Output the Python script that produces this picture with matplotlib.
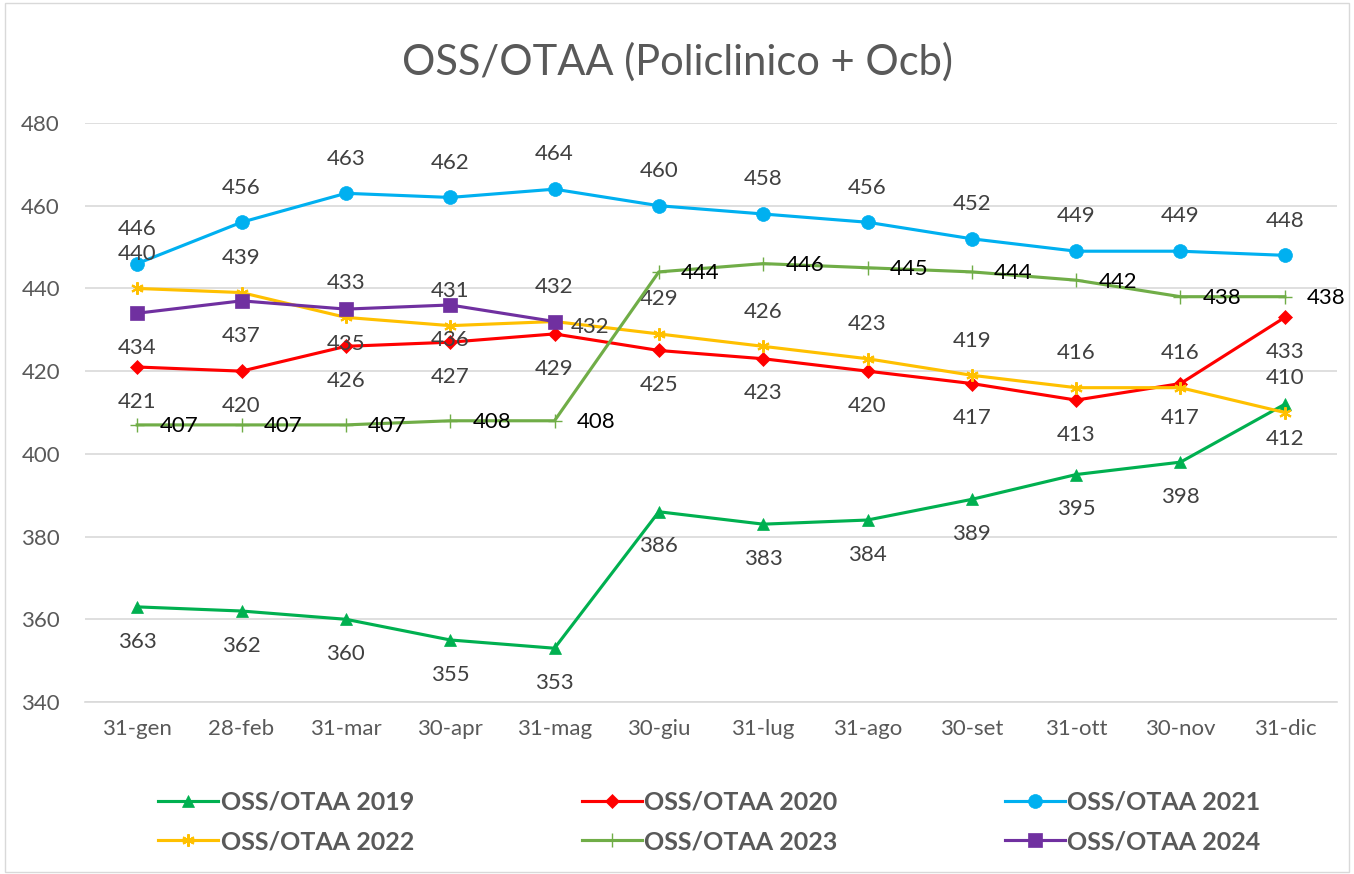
import matplotlib.pyplot as plt

plt.rcParams['font.family'] = ['Lato', 'DejaVu Sans']

months = ['31-gen', '28-feb', '31-mar', '30-apr', '31-mag', '30-giu',
          '31-lug', '31-ago', '30-set', '31-ott', '30-nov', '31-dic']

v2019 = [363, 362, 360, 355, 353, 386, 383, 384, 389, 395, 398, 412]
v2020 = [421, 420, 426, 427, 429, 425, 423, 420, 417, 413, 417, 433]
v2021 = [446, 456, 463, 462, 464, 460, 458, 456, 452, 449, 449, 448]
v2022 = [440, 439, 433, 431, 432, 429, 426, 423, 419, 416, 416, 410]
v2023 = [407, 407, 407, 408, 408, 444, 446, 445, 444, 442, 438, 438]
v2024 = [434, 437, 435, 436, 432]

series = [
    ('OSS/OTAA 2019', v2019, '#00B050', '^', 9, 'below'),
    ('OSS/OTAA 2020', v2020, '#FF0000', 'D', 7, 'below'),
    ('OSS/OTAA 2021', v2021, '#00B0F0', 'o', 10, 'above'),
    ('OSS/OTAA 2022', v2022, '#FFC000', 'x', 9, 'above'),
    ('OSS/OTAA 2023', v2023, '#70AD47', '+', 10, 'right'),
    ('OSS/OTAA 2024', v2024, '#7030A0', 's', 10, 'below'),
]

fig = plt.figure(figsize=(13.54, 8.74), dpi=100)
ax = fig.add_axes([85 / 1354, 1 - 702 / 874, (1337 - 85) / 1354, (702 - 123) / 874])

label_color = '#404040'
lfs = 16
for name, vals, color, mk, ms, pos in series:
    x = list(range(len(vals)))
    if mk == 'x':
        ax.plot(x, vals, color=color, lw=2.25, zorder=3, label=name,
                marker=(6, 2, 0), ms=ms, mew=1.5)
    else:
        ax.plot(x, vals, color=color, lw=2.25, marker=mk, ms=ms, zorder=3,
                label=name, mew=1 if mk == '+' else 0.5)
    for i, v in enumerate(vals):
        p = pos
        if name.endswith('2024') and i == len(vals) - 1:
            p = 'right'
        if p == 'below':
            ax.annotate(str(v), (i, v), xytext=(0, -25), textcoords='offset points',
                        ha='center', va='center', fontsize=lfs, color=label_color)
        elif p == 'above':
            ax.annotate(str(v), (i, v), xytext=(0, 25), textcoords='offset points',
                        ha='center', va='center', fontsize=lfs, color=label_color)
        elif name.endswith('2023'):
            ax.annotate(str(v), (i, v), xytext=(16, -1), textcoords='offset points',
                        ha='left', va='center', fontsize=lfs, color='black')
        else:
            ax.annotate(str(v), (i, v), xytext=(12, -4), textcoords='offset points',
                        ha='left', va='center', fontsize=lfs, color=label_color)

ax.set_xlim(-0.5, 11.5)
ax.set_ylim(340, 480)
ax.set_yticks(range(340, 481, 20))
ax.set_xticks(range(12))
ax.set_xticklabels(months)
ax.tick_params(axis='both', length=0, labelsize=16, colors='#595959')
ax.tick_params(axis='y', pad=18)
ax.tick_params(axis='x', pad=12)
ax.grid(axis='y', color='#D9D9D9', lw=1.2)
ax.set_axisbelow(True)
for s in ['top', 'right', 'left']:
    ax.spines[s].set_visible(False)
ax.spines['bottom'].set_color('#D9D9D9')
ax.spines['bottom'].set_linewidth(1.2)

fig.text(0.5, 1 - 62 / 874, 'OSS/OTAA (Policlinico + Ocb)', ha='center', va='center',
         fontsize=30, color='#595959')

handles, labels = ax.get_legend_handles_labels()
order = [0, 3, 1, 4, 2, 5]
leg = fig.legend([handles[k] for k in order], [labels[k] for k in order],
                 loc='center', bbox_to_anchor=(0.524, 1 - 822 / 874),
                 ncol=3, frameon=False, columnspacing=6.7,
                 handlelength=2.4, handletextpad=0.1, labelspacing=0.65,
                 prop={'weight': 'bold', 'size': 18})
for t in leg.get_texts():
    t.set_color('#595959')

border = plt.Rectangle((0.004, 0.002), 0.992, 0.995, transform=fig.transFigure,
                       fill=False, edgecolor='#D9D9D9', lw=1)
fig.patches.append(border)

fig.savefig('out.png', dpi=100)
